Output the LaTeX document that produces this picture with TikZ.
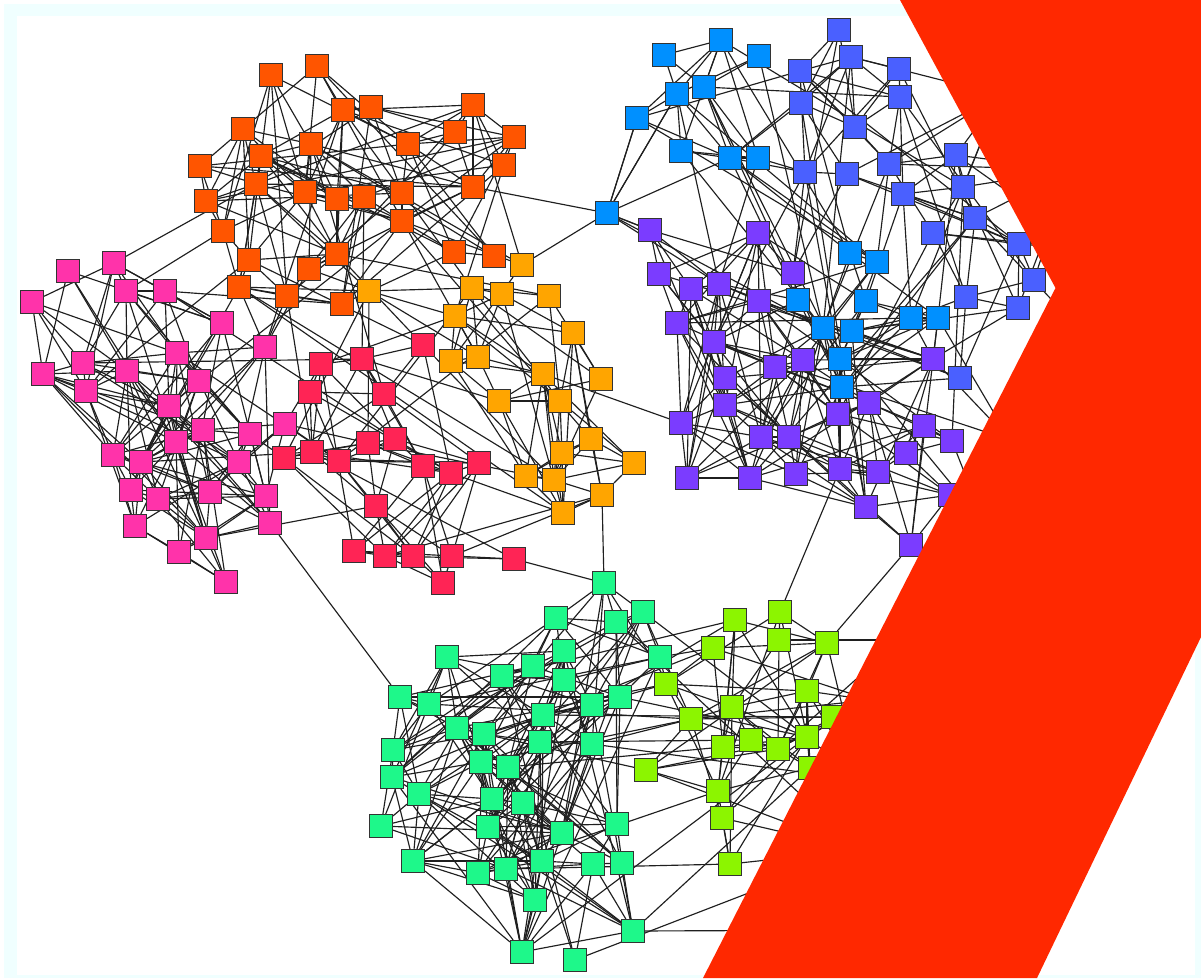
\documentclass[tikz,border=0pt]{standalone}
\pgfdeclarelayer{paper}
\pgfdeclarelayer{wires}
\pgfsetlayers{paper,wires,main}

\definecolor{cOrange}{HTML}{FF5500}
\definecolor{cAmber}{HTML}{FFA500}
\definecolor{cCrimson}{HTML}{FF2455}
\definecolor{cPink}{HTML}{FF33AA}
\definecolor{cSky}{HTML}{0090FF}
\definecolor{cIndigo}{HTML}{4A60FF}
\definecolor{cViolet}{HTML}{7B3CFF}
\definecolor{cMint}{HTML}{1EF88A}
\definecolor{cLime}{HTML}{8CF500}
\definecolor{cFlag}{HTML}{FF2800}
\definecolor{cFrame}{HTML}{F0FFFF}

\tikzset{
  vx/.style={rectangle, minimum size=23pt, inner sep=0pt, draw=black!80, line width=1.1pt},
  wire/.style={draw=black!88, line width=1.15pt}
}

% place one community of square vertices, named <prefix>1, <prefix>2, ...
\newcommand\placegroup[3]{%
  \foreach \px/\py [count=\k] in {#3} {\node[vx, fill=#2] (#1\k) at (\px,\py) {};}}

% links inside one community: probability #3*exp(-d/#4)
\newcommand\innerlinks[4]{%
  \pgfmathtruncatemacro\lastm{#2-1}%
  \foreach \i in {1,...,\lastm}{%
    \pgfmathtruncatemacro\nxt{\i+1}%
    \foreach \j in {\nxt,...,#2}{%
      \pgfpointdiff{\pgfpointanchor{#1\i}{center}}{\pgfpointanchor{#1\j}{center}}%
      \pgfgetlastxy\ddx\ddy
      \pgfmathsetmacro\pp{#3*exp(-veclen(\ddx,\ddy)/#4)}%
      \pgfmathsetmacro\rr{rnd}%
      \pgfmathtruncatemacro\hit{\rr<\pp ? 1 : 0}%
      \ifnum\hit=1 \draw[wire] (#1\i) -- (#1\j);\fi
    }}}

% links between two communities
\newcommand\crosslinks[6]{%
  \foreach \i in {1,...,#2}{%
    \foreach \j in {1,...,#4}{%
      \pgfpointdiff{\pgfpointanchor{#1\i}{center}}{\pgfpointanchor{#3\j}{center}}%
      \pgfgetlastxy\ddx\ddy
      \pgfmathsetmacro\pp{#5*exp(-veclen(\ddx,\ddy)/#6)}%
      \pgfmathsetmacro\rr{rnd}%
      \pgfmathtruncatemacro\hit{\rr<\pp ? 1 : 0}%
      \ifnum\hit=1 \draw[wire] (#1\i) -- (#3\j);\fi
    }}}

\begin{document}
\begin{tikzpicture}[x=1pt,y=-1pt]
\useasboundingbox (0,0) rectangle (1201,978);

\begin{pgfonlayer}{paper}
  \fill[white] (0,0) rectangle (1201,978);
  \fill[cFrame] (4,4) rectangle (1201,978);
  \fill[white] (17,16) rectangle (1195,975);
\end{pgfonlayer}

% communities
\placegroup{o}{cOrange}{271/75, 317/66, 343/110, 371/107, 243/129, 261/156, 311/144, 200/166, 408/144, 473/105, 455/132, 514/137, 504/165, 206/201, 256/184, 305/192, 337/199, 364/197, 402/193, 402/221, 473/187, 223/231, 249/260, 309/269, 337/254, 239/287, 287/296, 342/304, 454/252, 494/256}
\placegroup{y}{cAmber}{522/265, 472/288, 502/294, 549/296, 369/291, 455/316, 573/333, 451/361, 478/357, 543/374, 601/379, 499/401, 560/401, 591/439, 562/453, 634/463, 526/476, 554/480, 602/495, 563/513}
\placegroup{r}{cCrimson}{423/345, 362/359, 321/364, 310/392, 384/394, 368/443, 395/439, 312/452, 284/458, 339/461, 423/466, 451/473, 479/463, 376/506, 354/551, 385/556, 413/556, 452/556, 514/559, 443/583}
\placegroup{k}{cPink}{68/271, 114/263, 32/302, 126/291, 165/291, 222/323, 265/347, 177/353, 43/374, 83/363, 86/391, 127/371, 199/381, 169/406, 285/424, 203/430, 176/442, 250/434, 113/455, 141/462, 239/462, 131/490, 158/499, 210/492, 266/496, 135/526, 206/538, 270/523, 179/552, 226/582}
\placegroup{b}{cSky}{664/55, 721/40, 759/56, 677/94, 704/87, 637/118, 681/151, 730/158, 758/158, 607/213, 850/253, 877/262, 798/300, 866/301, 911/318, 938/318, 823/328, 852/331, 840/359, 842/387}
\placegroup{n}{cIndigo}{839/30, 851/57, 800/71, 899/69, 801/103, 900/97, 855/127, 805/172, 847/174, 889/164, 903/194, 956/155, 963/187, 975/218, 933/233, 1019/244, 1034/280, 966/297, 1018/308, 960/378, 1000/95, 1070/170, 1090/250, 1080/330}
\placegroup{p}{cViolet}{650/230, 758/233, 659/274, 691/289, 719/284, 793/273, 759/301, 677/323, 714/342, 933/359, 775/367, 803/360, 725/378, 725/405, 869/403, 838/414, 681/423, 924/426, 952/441, 761/437, 789/437, 906/453, 687/478, 750/478, 796/474, 840/469, 878/472, 950/495, 866/507, 911/545, 1010/440, 985/525}
\placegroup{g}{cMint}{604/583, 556/618, 616/622, 643/612, 564/651, 660/657, 447/657, 533/666, 502/676, 564/680, 400/697, 429/704, 592/705, 620/697, 543/715, 457/728, 484/734, 540/742, 592/744, 393/750, 392/777, 481/762, 508/767, 419/794, 492/799, 523/803, 381/826, 488/827, 562/833, 617/824, 413/861, 478/873, 506/869, 542/861, 593/864, 622/863, 535/900, 633/931, 522/952, 575/960}
\placegroup{l}{cLime}{735/620, 780/612, 713/648, 779/640, 827/643, 666/684, 807/691, 732/707, 691/719, 833/717, 723/747, 751/740, 778/749, 807/737, 810/768, 646/770, 718/791, 722/818, 730/864, 870/700, 860/780, 900/640, 860/850, 900/930}

\begin{pgfonlayer}{wires}
  \pgfmathsetseed{4217}
  \innerlinks{o}{30}{1.15}{90}
  \innerlinks{y}{20}{1.15}{90}
  \innerlinks{r}{20}{1.15}{90}
  \innerlinks{k}{30}{1.15}{90}
  \innerlinks{b}{20}{1.15}{90}
  \innerlinks{n}{24}{1.15}{90}
  \innerlinks{p}{32}{1.15}{90}
  \innerlinks{g}{40}{1.15}{90}
  \innerlinks{l}{24}{1.15}{90}
  \crosslinks{o}{30}{y}{20}{0.35}{70}
  \crosslinks{o}{30}{r}{20}{0.3}{70}
  \crosslinks{o}{30}{k}{30}{0.3}{70}
  \crosslinks{r}{20}{k}{30}{0.35}{70}
  \crosslinks{r}{20}{y}{20}{0.35}{70}
  \crosslinks{b}{20}{n}{24}{0.4}{80}
  \crosslinks{b}{20}{p}{32}{0.35}{80}
  \crosslinks{n}{24}{p}{32}{0.3}{80}
  \crosslinks{g}{40}{l}{24}{0.35}{80}
  % bridges between the three groups
  \draw[wire] (o21) -- (b10);
  \draw[wire] (y1) -- (b10);
  \draw[wire] (b10) -- (p1);
  \draw[wire] (b10) -- (b6);
  \draw[wire] (b10) -- (b4);
  \draw[wire] (b10) -- (b8);
  \draw[wire] (k28) -- (g11);
  \draw[wire] (r19) -- (g1);
  \draw[wire] (y19) -- (g1);
  \draw[wire] (y10) -- (p17);
  \draw[wire] (l2) -- (p26);
  \draw[wire] (l5) -- (p30);
  \draw[wire] (g38) -- (l24);
\end{pgfonlayer}

% banner shape in front
\fill[cFlag] (900,0) -- (1201,0) -- (1201,637) -- (1037,978) -- (703,978) -- (1055.5,288) -- cycle;
\end{tikzpicture}
\end{document}
